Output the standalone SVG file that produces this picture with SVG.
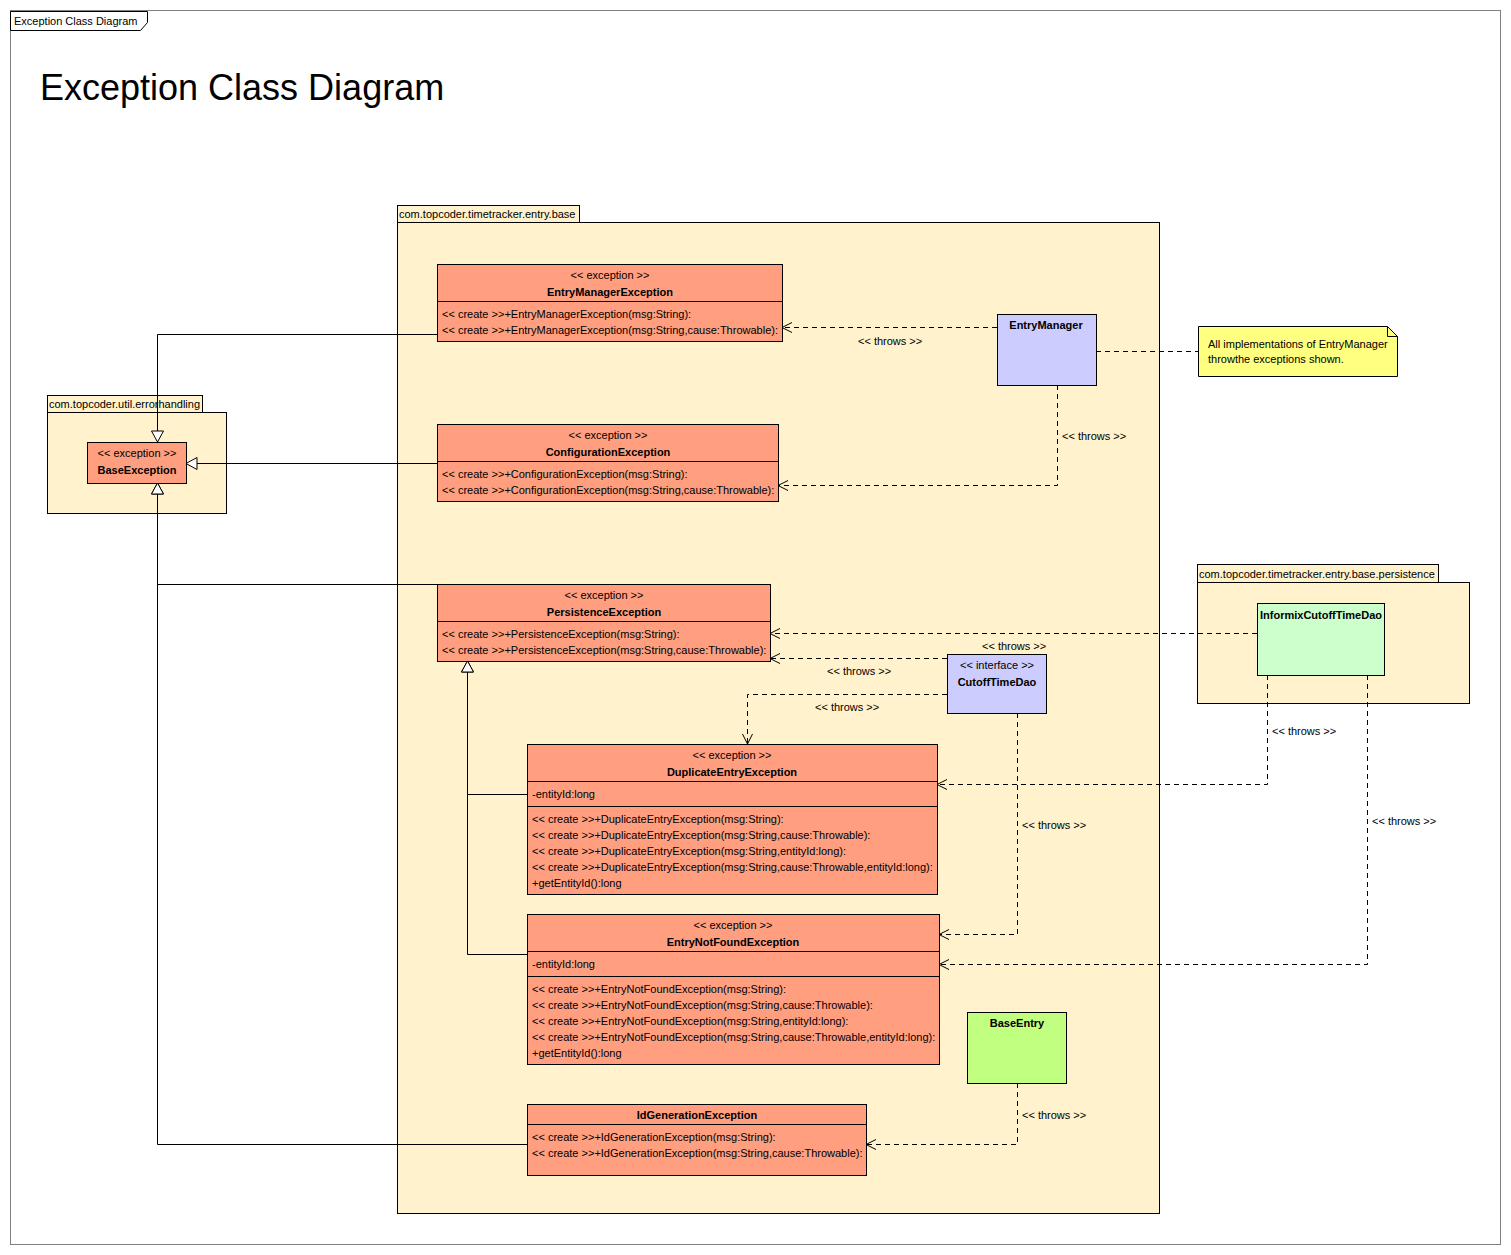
<svg xmlns="http://www.w3.org/2000/svg" width="1511" height="1255" viewBox="0 0 1511 1255">
<style>
text{font-family:"Liberation Sans",Arial,sans-serif;font-size:11px;fill:#000}
.b{font-weight:bold}
.c{text-anchor:middle}
.title{font-size:36px}
.pkg{fill:#FFF2CC;stroke:#000;stroke-width:1}
.cls{fill:#FF9F80;stroke:#000;stroke-width:1}
.sep{stroke:#000;stroke-width:1}
.iface{fill:#CCCCFF;stroke:#000;stroke-width:1}
.impl{fill:#CCFFCC;stroke:#000;stroke-width:1}
.ent{fill:#C0FF80;stroke:#000;stroke-width:1}
.note{fill:#FFFF80;stroke:#000;stroke-width:1}
.gen{fill:none;stroke:#000;stroke-width:1;marker-end:url(#tri)}
.dep{fill:none;stroke:#000;stroke-width:1;stroke-dasharray:5,4;marker-end:url(#open)}
.dl{fill:none;stroke:#000;stroke-width:1;stroke-dasharray:5,4}
</style>
<defs>
<marker id="tri" viewBox="-13 -8 15 16" refX="0" refY="0" markerWidth="15" markerHeight="16" markerUnits="userSpaceOnUse" orient="auto">
<path d="M-11,-6 L0,0 L-11,6 Z" fill="#fff" stroke="#000" stroke-width="1"/>
</marker>
<marker id="open" viewBox="-12 -7 14 14" refX="0" refY="0" markerWidth="14" markerHeight="14" markerUnits="userSpaceOnUse" orient="auto">
<path d="M-10,-5 L0,0 L-10,5" fill="none" stroke="#000" stroke-width="1"/>
</marker>
</defs>
<rect x="0" y="0" width="1511" height="1255" fill="#fff"/>
<g id="frame">
<rect x="10.5" y="10.5" width="1490" height="1234" fill="none" stroke="#808080" stroke-width="1"/>
<path d="M10.5,11.5 H147.5 V22.5 L140.5,30.5 H10.5 Z" fill="#fff" stroke="#000" stroke-width="1"/>
<text x="14" y="25">Exception Class Diagram</text>
<text x="40" y="100" class="title">Exception Class Diagram</text>
</g>
<g id="pkg-base">
<rect x="397.5" y="205.5" width="182" height="17" class="pkg"/>
<rect x="397.5" y="222.5" width="762" height="991" class="pkg"/>
<text x="399" y="218">com.topcoder.timetracker.entry.base</text>
</g>
<g id="pkg-errorhandling">
<rect x="47.5" y="395.5" width="155" height="17" class="pkg"/>
<rect x="47.5" y="412.5" width="179" height="101" class="pkg"/>
<text x="49" y="408">com.topcoder.util.errorhandling</text>
</g>
<g id="pkg-persistence">
<rect x="1197.5" y="564.5" width="241" height="18" class="pkg"/>
<rect x="1197.5" y="582.5" width="272" height="121" class="pkg"/>
<text x="1199" y="578">com.topcoder.timetracker.entry.base.persistence</text>
</g>
<g id="connectors">
<polyline class="gen" points="437,334.5 157.5,334.5 157.5,442"/>
<polyline class="gen" points="437,463.5 186,463.5"/>
<polyline class="gen" points="437,584.5 157.5,584.5 157.5,483"/>
<polyline class="gen" points="527,1144.5 157.5,1144.5 157.5,483"/>
<polyline class="gen" points="527,794.5 467.5,794.5 467.5,661"/>
<polyline class="gen" points="527,954.5 467.5,954.5 467.5,661"/>
<polyline class="dep" points="997,327.5 782,327.5"/>
<polyline class="dep" points="1057.5,385 1057.5,485.5 778,485.5"/>
<polyline class="dl" points="1096,351.5 1198,351.5"/>
<polyline class="dep" points="1257,633.5 770,633.5"/>
<polyline class="dep" points="947,658.5 770,658.5"/>
<polyline class="dep" points="947,694.5 747.5,694.5 747.5,744"/>
<polyline class="dep" points="1017.5,713 1017.5,934.5 939,934.5"/>
<polyline class="dep" points="1267.5,675 1267.5,784.5 937,784.5"/>
<polyline class="dep" points="1367.5,675 1367.5,964.5 939,964.5"/>
<polyline class="dep" points="1017.5,1083 1017.5,1144.5 866,1144.5"/>
<text x="858" y="345">&lt;&lt; throws &gt;&gt;</text>
<text x="1062" y="440">&lt;&lt; throws &gt;&gt;</text>
<text x="982" y="650">&lt;&lt; throws &gt;&gt;</text>
<text x="827" y="675">&lt;&lt; throws &gt;&gt;</text>
<text x="815" y="711">&lt;&lt; throws &gt;&gt;</text>
<text x="1022" y="829">&lt;&lt; throws &gt;&gt;</text>
<text x="1272" y="735">&lt;&lt; throws &gt;&gt;</text>
<text x="1372" y="825">&lt;&lt; throws &gt;&gt;</text>
<text x="1022" y="1119">&lt;&lt; throws &gt;&gt;</text>
</g>
<g id="BaseException">
<rect x="87.5" y="442.5" width="99" height="41" class="cls"/>
<text x="137" y="457" class="c">&lt;&lt; exception &gt;&gt;</text>
<text x="137" y="474" class="c b">BaseException</text>
</g>
<g id="EntryManagerException">
<rect x="437.5" y="264.5" width="345" height="77" class="cls"/>
<line x1="437.5" y1="301.5" x2="782.5" y2="301.5" class="sep"/>
<text x="610" y="279" class="c">&lt;&lt; exception &gt;&gt;</text>
<text x="610" y="296" class="c b">EntryManagerException</text>
<text x="442" y="318">&lt;&lt; create &gt;&gt;+EntryManagerException(msg:String):</text>
<text x="442" y="334">&lt;&lt; create &gt;&gt;+EntryManagerException(msg:String,cause:Throwable):</text>
</g>
<g id="ConfigurationException">
<rect x="437.5" y="424.5" width="341" height="77" class="cls"/>
<line x1="437.5" y1="461.5" x2="778.5" y2="461.5" class="sep"/>
<text x="608" y="439" class="c">&lt;&lt; exception &gt;&gt;</text>
<text x="608" y="456" class="c b">ConfigurationException</text>
<text x="442" y="478">&lt;&lt; create &gt;&gt;+ConfigurationException(msg:String):</text>
<text x="442" y="494">&lt;&lt; create &gt;&gt;+ConfigurationException(msg:String,cause:Throwable):</text>
</g>
<g id="PersistenceException">
<rect x="437.5" y="584.5" width="333" height="77" class="cls"/>
<line x1="437.5" y1="621.5" x2="770.5" y2="621.5" class="sep"/>
<text x="604" y="599" class="c">&lt;&lt; exception &gt;&gt;</text>
<text x="604" y="616" class="c b">PersistenceException</text>
<text x="442" y="638">&lt;&lt; create &gt;&gt;+PersistenceException(msg:String):</text>
<text x="442" y="654">&lt;&lt; create &gt;&gt;+PersistenceException(msg:String,cause:Throwable):</text>
</g>
<g id="DuplicateEntryException">
<rect x="527.5" y="744.5" width="410" height="150" class="cls"/>
<line x1="527.5" y1="781.5" x2="937.5" y2="781.5" class="sep"/>
<line x1="527.5" y1="806.5" x2="937.5" y2="806.5" class="sep"/>
<text x="732" y="759" class="c">&lt;&lt; exception &gt;&gt;</text>
<text x="732" y="776" class="c b">DuplicateEntryException</text>
<text x="532" y="798">-entityId:long</text>
<text x="532" y="823">&lt;&lt; create &gt;&gt;+DuplicateEntryException(msg:String):</text>
<text x="532" y="839">&lt;&lt; create &gt;&gt;+DuplicateEntryException(msg:String,cause:Throwable):</text>
<text x="532" y="855">&lt;&lt; create &gt;&gt;+DuplicateEntryException(msg:String,entityId:long):</text>
<text x="532" y="871">&lt;&lt; create &gt;&gt;+DuplicateEntryException(msg:String,cause:Throwable,entityId:long):</text>
<text x="532" y="887">+getEntityId():long</text>
</g>
<g id="EntryNotFoundException">
<rect x="527.5" y="914.5" width="412" height="150" class="cls"/>
<line x1="527.5" y1="951.5" x2="939.5" y2="951.5" class="sep"/>
<line x1="527.5" y1="976.5" x2="939.5" y2="976.5" class="sep"/>
<text x="733" y="929" class="c">&lt;&lt; exception &gt;&gt;</text>
<text x="733" y="946" class="c b">EntryNotFoundException</text>
<text x="532" y="968">-entityId:long</text>
<text x="532" y="993">&lt;&lt; create &gt;&gt;+EntryNotFoundException(msg:String):</text>
<text x="532" y="1009">&lt;&lt; create &gt;&gt;+EntryNotFoundException(msg:String,cause:Throwable):</text>
<text x="532" y="1025">&lt;&lt; create &gt;&gt;+EntryNotFoundException(msg:String,entityId:long):</text>
<text x="532" y="1041">&lt;&lt; create &gt;&gt;+EntryNotFoundException(msg:String,cause:Throwable,entityId:long):</text>
<text x="532" y="1057">+getEntityId():long</text>
</g>
<g id="IdGenerationException">
<rect x="527.5" y="1104.5" width="339" height="71" class="cls"/>
<line x1="527.5" y1="1124.5" x2="866.5" y2="1124.5" class="sep"/>
<text x="697" y="1119" class="c b">IdGenerationException</text>
<text x="532" y="1141">&lt;&lt; create &gt;&gt;+IdGenerationException(msg:String):</text>
<text x="532" y="1157">&lt;&lt; create &gt;&gt;+IdGenerationException(msg:String,cause:Throwable):</text>
</g>
<g id="EntryManager">
<rect x="997.5" y="314.5" width="99" height="71" class="iface"/>
<text x="1046" y="329" class="c b">EntryManager</text>
</g>
<g id="note">
<path d="M1198.5,326.5 H1387.5 L1397.5,336.5 V376.5 H1198.5 Z" class="note"/>
<path d="M1387.5,326.5 V336.5 H1397.5" fill="none" stroke="#000" stroke-width="1"/>
<text x="1208" y="348">All implementations of EntryManager</text>
<text x="1208" y="363">throwthe exceptions shown.</text>
</g>
<g id="CutoffTimeDao">
<rect x="947.5" y="654.5" width="99" height="59" class="iface"/>
<text x="997" y="669" class="c">&lt;&lt; interface &gt;&gt;</text>
<text x="997" y="686" class="c b">CutoffTimeDao</text>
</g>
<g id="InformixCutoffTimeDao">
<rect x="1257.5" y="603.5" width="127" height="72" class="impl"/>
<text x="1321" y="619" class="c b">InformixCutoffTimeDao</text>
</g>
<g id="BaseEntry">
<rect x="967.5" y="1012.5" width="99" height="71" class="ent"/>
<text x="1017" y="1027" class="c b">BaseEntry</text>
</g>
</svg>
